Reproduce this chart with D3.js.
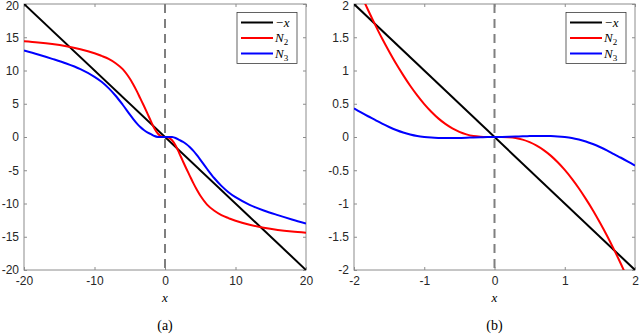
<!DOCTYPE html>
<html>
<head>
<meta charset="utf-8">
<script src="https://cdn.jsdelivr.net/npm/d3@7"></script>
<style>
  body { margin: 0; background: #fff; }
  svg { display: block; }
</style>
</head>
<body>
<svg id="chart" width="640" height="334"></svg>
<script>
/* panel (a): wide range */
const xA = [-20, -18, -16, -14, -12, -10, -9, -8, -7, -6, -5, -4.5, -4, -3.5, -3, -2.5, -2, -1.5, -1, -0.5,
            0, 0.5, 1, 1.5, 2, 2.5, 3, 3.5, 4, 4.5, 5, 6, 7, 8, 9, 10, 12, 14, 16, 18, 20];
const n2A = [14.4, 14.22, 13.98, 13.65, 13.2, 12.6, 12.2, 11.75, 11.1, 10.2, 8.8, 7.9, 6.9, 5.8, 4.7, 3.55, 2.38, 1.285, 0.495, 0.078,
             0, -0.078, -0.495, -1.285, -2.38, -3.55, -4.7, -5.8, -6.9, -7.9, -8.8, -10.2, -11.1, -11.75, -12.2, -12.6, -13.2, -13.65, -13.98, -14.22, -14.4];
const n3A = [13.0, 12.4, 11.75, 11.05, 10.2, 9.05, 8.3, 7.35, 6.2, 4.85, 3.4, 2.7, 2.05, 1.5, 1.05, 0.7, 0.43, 0.15, 0.0, -0.014,
             0, 0.014, 0.0, -0.15, -0.43, -0.7, -1.05, -1.5, -2.05, -2.7, -3.4, -4.85, -6.2, -7.35, -8.3, -9.05, -10.2, -11.05, -11.75, -12.4, -13.0];

/* panel (b): zoom near the origin */
const xB = [-2, -1.9, -1.8, -1.7, -1.6, -1.5, -1.4, -1.3, -1.2, -1.1, -1, -0.9, -0.8, -0.7, -0.6, -0.5, -0.4, -0.3, -0.2, -0.1,
            0, 0.1, 0.2, 0.3, 0.4, 0.5, 0.6, 0.7, 0.8, 0.9, 1, 1.1, 1.2, 1.3, 1.4, 1.5, 1.6, 1.7, 1.8, 1.9, 2];
const n2B = [2.38, 2.14, 1.91, 1.69, 1.48, 1.285, 1.1, 0.93, 0.77, 0.625, 0.495, 0.38, 0.28, 0.197, 0.13, 0.078, 0.04, 0.016, 0.005, 0.0006,
             0, -0.0006, -0.005, -0.016, -0.04, -0.078, -0.13, -0.197, -0.28, -0.38, -0.495, -0.625, -0.77, -0.93, -1.1, -1.285, -1.48, -1.69, -1.91, -2.14, -2.38];
const n3B = [0.43, 0.37, 0.312, 0.257, 0.2, 0.15, 0.105, 0.067, 0.037, 0.014, 0.0, -0.009, -0.014, -0.016, -0.016, -0.014, -0.011, -0.007, -0.004, -0.001,
             0, 0.001, 0.004, 0.007, 0.011, 0.014, 0.016, 0.016, 0.014, 0.009, 0.0, -0.014, -0.037, -0.067, -0.105, -0.15, -0.2, -0.257, -0.312, -0.37, -0.43];

const ticksA_x = [-20, -10, 0, 10, 20];
const ticksA_y = [-20, -15, -10, -5, 0, 5, 10, 15, 20];
const ticksB_x = [-2, -1, 0, 1, 2];
const ticksB_y = [-2, -1.5, -1, -0.5, 0, 0.5, 1, 1.5, 2];

const svg = d3.select("#chart");
const frameColor = "#8c8c8c";

function drawPanel(id, left, right, domain, xs, n2, n3, tx, ty, caption) {
    const top = 4, bottom = 270;
    const x = d3.scaleLinear().domain([-domain, domain]).range([left, right]);
    const y = d3.scaleLinear().domain([-domain, domain]).range([bottom, top]);

    svg.append("clipPath").attr("id", "clip" + id)
        .append("rect")
        .attr("x", left).attr("y", top)
        .attr("width", right - left).attr("height", bottom - top);

    const g = svg.append("g");

    // axes, ticks inward on all four sides
    const fmt = d => String(d);
    const axB = g.append("g").attr("transform", `translate(0,${bottom})`)
        .call(d3.axisBottom(x).tickValues(tx).tickSize(-3).tickPadding(6).tickFormat(fmt));
    const axL = g.append("g").attr("transform", `translate(${left},0)`)
        .call(d3.axisLeft(y).tickValues(ty).tickSize(-3).tickPadding(5).tickFormat(fmt));
    const axT = g.append("g").attr("transform", `translate(0,${top})`)
        .call(d3.axisTop(x).tickValues(tx).tickSize(-3).tickFormat(""));
    const axR = g.append("g").attr("transform", `translate(${right},0)`)
        .call(d3.axisRight(y).tickValues(ty).tickSize(-3).tickFormat(""));

    [axB, axL, axT, axR].forEach(a => {
        a.select(".domain").remove();
        a.selectAll(".tick line").attr("stroke", frameColor);
        a.selectAll("text")
            .attr("fill", "#262626")
            .style("font-family", "'Liberation Sans', Arial, sans-serif")
            .style("font-size", "12px");
    });
    axB.selectAll("text").attr("dy", "0.72em");
    // top label sits at the very edge, nudge it in a little
    axL.selectAll(".tick text").filter(d => d === domain).attr("dy", "0.45em");

    g.append("rect")
        .attr("x", left).attr("y", top)
        .attr("width", right - left).attr("height", bottom - top)
        .attr("fill", "none").attr("stroke", frameColor).attr("stroke-width", 1);

    const plot = g.append("g").attr("clip-path", `url(#clip${id})`);

    const line = d3.line().x(d => x(d[0])).y(d => y(d[1])).curve(d3.curveCatmullRom.alpha(0.5));

    // -x reference line
    plot.append("path")
        .attr("d", line([[-domain, domain], [domain, -domain]]))
        .attr("fill", "none").attr("stroke", "#000").attr("stroke-width", 2);

    plot.append("path")
        .attr("d", line(xs.map((v, i) => [v, n2[i]])))
        .attr("fill", "none").attr("stroke", "#ff0000").attr("stroke-width", 2);

    plot.append("path")
        .attr("d", line(xs.map((v, i) => [v, n3[i]])))
        .attr("fill", "none").attr("stroke", "#0000ff").attr("stroke-width", 2);

    // dashed line at x = 0
    g.append("line")
        .attr("x1", x(0)).attr("x2", x(0))
        .attr("y1", top).attr("y2", bottom)
        .attr("stroke", "#7f7f7f").attr("stroke-width", 2)
        .attr("stroke-dasharray", "9,6");

    // legend
    const lx = right - 69, ly = 12.5;
    const leg = g.append("g").attr("transform", `translate(${lx},${ly})`);
    leg.append("rect")
        .attr("width", 60).attr("height", 51)
        .attr("fill", "#fff").attr("stroke", "#3c3c3c").attr("stroke-width", 0.8);
    const items = [
        { color: "#000", label: "−x", sub: null },
        { color: "#ff0000", label: "N", sub: "2" },
        { color: "#0000ff", label: "N", sub: "3" }
    ];
    items.forEach((it, i) => {
        const yy = 10 + i * 15.5;
        leg.append("line")
            .attr("x1", 4).attr("x2", 36).attr("y1", yy).attr("y2", yy)
            .attr("stroke", it.color).attr("stroke-width", 2);
        const t = leg.append("text")
            .attr("x", 38).attr("y", yy + 4)
            .style("font-family", "'Liberation Serif', 'DejaVu Serif', serif")
            .style("font-size", "13px")
            .attr("fill", "#000");
        t.append("tspan").style("font-style", "italic").text(it.label);
        if (it.sub) {
            t.append("tspan").attr("dy", 3).style("font-size", "9px").text(it.sub);
        }
    });

    // x label and caption
    svg.append("text")
        .attr("x", (left + right) / 2).attr("y", 302)
        .attr("text-anchor", "middle")
        .style("font-family", "'Liberation Serif', 'DejaVu Serif', serif")
        .style("font-style", "italic").style("font-size", "13px")
        .text("x");
    svg.append("text")
        .attr("x", (left + right) / 2).attr("y", 330)
        .attr("text-anchor", "middle")
        .style("font-family", "'Liberation Serif', 'DejaVu Serif', serif")
        .style("font-size", "14px")
        .text(caption);
}

drawPanel("a", 24, 306, 20, xA, n2A, n3A, ticksA_x, ticksA_y, "(a)");
drawPanel("b", 354, 635, 2, xB, n2B, n3B, ticksB_x, ticksB_y, "(b)");
</script>
</body>
</html>
